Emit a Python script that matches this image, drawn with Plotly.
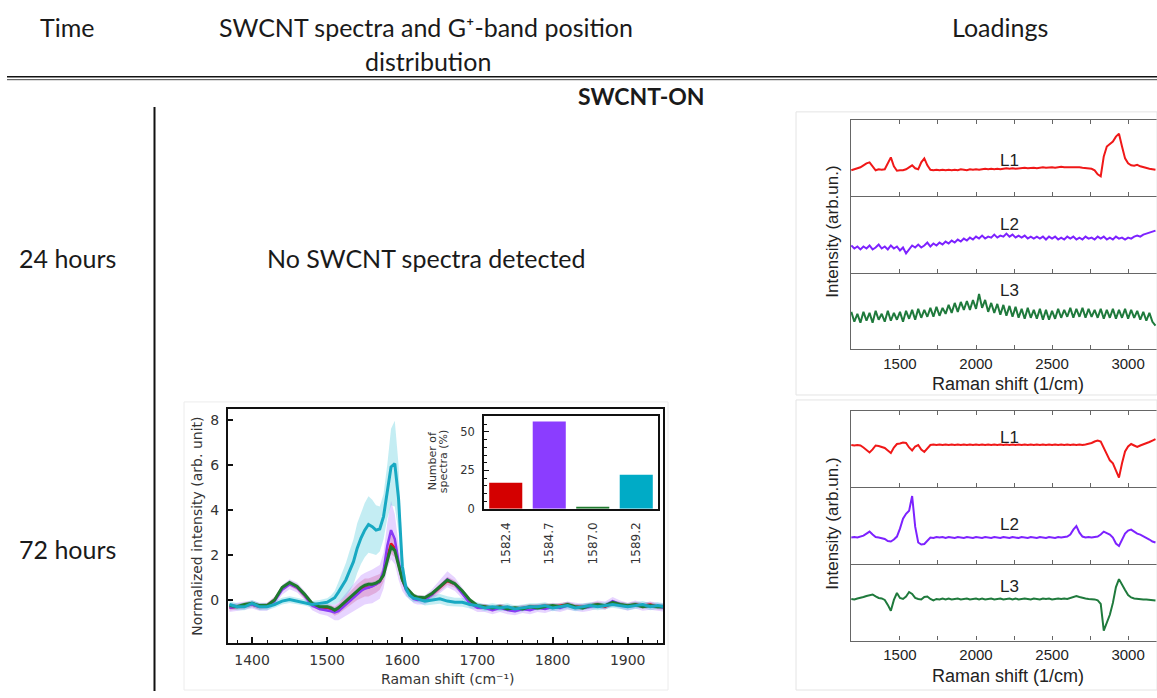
import plotly.graph_objects as go

W, H = 1157, 698


def fx(p):
    return p / W


def fy(p):
    return 1 - p / H


# ---------------- averaged SWCNT spectra (72 h) ----------------
shift = [1370, 1380, 1390, 1400, 1410, 1420, 1430, 1440, 1450, 1460, 1470, 1480, 1490, 1500,
         1505, 1510, 1515, 1520, 1525, 1530, 1535, 1540, 1545, 1550, 1555, 1560, 1565, 1570,
         1575, 1580, 1585, 1590, 1595, 1600, 1605, 1610, 1615, 1620,
         1630, 1640, 1650, 1660, 1670, 1680, 1690, 1700, 1710, 1720, 1730, 1740, 1750, 1760,
         1770, 1780, 1790, 1800, 1810, 1820, 1830, 1840, 1850, 1860, 1870, 1880, 1890, 1900,
         1910, 1920, 1930, 1940, 1950]

spec_1582 = [-0.35, -0.3, -0.25, -0.2, -0.3, -0.25, 0.0, 0.5, 0.72, 0.55, 0.2, -0.2, -0.35, -0.35,
             -0.4, -0.5, -0.4, -0.25, -0.1, 0.05, 0.2, 0.35, 0.45, 0.55, 0.55, 0.62, 0.7, 0.8,
             1.15, 1.9, 2.5, 2.3, 1.6, 0.9, 0.5, 0.3, 0.15, 0.1,
             0.05, 0.25, 0.55, 0.85, 0.7, 0.35, -0.05, -0.3, -0.3, -0.4, -0.3, -0.35, -0.4, -0.35,
             -0.3, -0.3, -0.25, -0.3, -0.25, -0.2, -0.3, -0.3, -0.25, -0.2, -0.3, -0.15, -0.2, -0.25,
             -0.2, -0.25, -0.2, -0.3, -0.3]
spec_1584 = [-0.35, -0.3, -0.25, -0.2, -0.3, -0.3, -0.05, 0.45, 0.7, 0.55, 0.2, -0.25, -0.4, -0.45,
             -0.5, -0.55, -0.5, -0.35, -0.2, -0.05, 0.1, 0.25, 0.4, 0.5, 0.55, 0.6, 0.7, 0.8,
             1.3, 2.4, 3.1, 2.7, 1.7, 0.9, 0.45, 0.25, 0.05, 0.0,
             0.0, 0.25, 0.6, 0.92, 0.7, 0.3, -0.15, -0.35, -0.35, -0.45, -0.35, -0.45, -0.5, -0.4,
             -0.45, -0.35, -0.4, -0.3, -0.35, -0.25, -0.3, -0.35, -0.3, -0.2, -0.25, -0.05, -0.2, -0.3,
             -0.2, -0.3, -0.25, -0.3, -0.35]
spec_1587 = [-0.25, -0.3, -0.2, -0.15, -0.25, -0.25, 0.0, 0.55, 0.78, 0.6, 0.25, -0.15, -0.3, -0.3,
             -0.35, -0.45, -0.35, -0.2, -0.05, 0.1, 0.25, 0.4, 0.55, 0.65, 0.7, 0.7, 0.75, 0.85,
             1.1, 1.75, 2.35, 2.2, 1.55, 0.9, 0.55, 0.35, 0.2, 0.12,
             0.1, 0.3, 0.6, 0.88, 0.72, 0.4, 0.0, -0.25, -0.3, -0.35, -0.3, -0.4, -0.35, -0.4,
             -0.3, -0.35, -0.3, -0.25, -0.3, -0.2, -0.3, -0.35, -0.25, -0.2, -0.25, -0.1, -0.2, -0.25,
             -0.2, -0.3, -0.25, -0.3, -0.3]
spec_1589 = [-0.2, -0.3, -0.3, -0.15, -0.3, -0.3, -0.2, -0.05, 0.02, -0.05, -0.1, -0.2, -0.15, -0.1,
             0.0, 0.1, 0.35, 0.6, 0.9, 1.3, 1.7, 2.3, 2.75, 3.1, 3.35, 3.25, 3.1, 3.15,
             3.7, 4.8, 5.9, 6.05, 4.5, 1.5, 0.5, 0.2, 0.08, 0.05,
             -0.05, 0.0, 0.05, -0.05, -0.1, -0.1, -0.2, -0.25, -0.35, -0.3, -0.35, -0.3, -0.4, -0.35,
             -0.3, -0.3, -0.25, -0.35, -0.3, -0.25, -0.35, -0.3, -0.25, -0.3, -0.25, -0.2, -0.25, -0.3,
             -0.25, -0.2, -0.3, -0.25, -0.3]

# standard deviation of each group (shaded bands)
sd_1582 = [0.12, 0.12, 0.12, 0.12, 0.12, 0.12, 0.12, 0.12, 0.12, 0.12, 0.12, 0.12, 0.12, 0.12,
           0.15, 0.2, 0.22, 0.25, 0.28, 0.3, 0.32, 0.35, 0.38, 0.4, 0.4, 0.4, 0.38, 0.35,
           0.35, 0.4, 0.45, 0.4, 0.3, 0.2, 0.15, 0.12, 0.12, 0.12,
           0.12, 0.14, 0.16, 0.18, 0.16, 0.14, 0.12, 0.12, 0.12, 0.12, 0.12, 0.12, 0.12, 0.12,
           0.12, 0.12, 0.12, 0.12, 0.12, 0.12, 0.12, 0.12, 0.12, 0.12, 0.12, 0.12, 0.12, 0.12,
           0.12, 0.12, 0.12, 0.12, 0.12]
sd_1584 = [0.18, 0.18, 0.18, 0.18, 0.18, 0.18, 0.2, 0.22, 0.22, 0.22, 0.2, 0.2, 0.22, 0.25,
           0.3, 0.35, 0.4, 0.45, 0.5, 0.55, 0.6, 0.65, 0.7, 0.7, 0.72, 0.75, 0.75, 0.75,
           0.8, 1.0, 1.3, 1.1, 0.8, 0.5, 0.3, 0.22, 0.2, 0.2,
           0.2, 0.25, 0.3, 0.35, 0.3, 0.25, 0.22, 0.18, 0.18, 0.18, 0.18, 0.18, 0.18, 0.18,
           0.18, 0.18, 0.18, 0.18, 0.18, 0.18, 0.18, 0.18, 0.18, 0.18, 0.18, 0.18, 0.18, 0.18,
           0.18, 0.18, 0.18, 0.18, 0.18]
sd_1587 = [0.1, 0.1, 0.1, 0.1, 0.1, 0.1, 0.1, 0.1, 0.1, 0.1, 0.1, 0.1, 0.1, 0.1,
           0.1, 0.1, 0.1, 0.1, 0.1, 0.1, 0.1, 0.1, 0.1, 0.1, 0.1, 0.1, 0.1, 0.1,
           0.12, 0.14, 0.15, 0.14, 0.12, 0.1, 0.1, 0.1, 0.1, 0.1,
           0.1, 0.1, 0.1, 0.1, 0.1, 0.1, 0.1, 0.1, 0.1, 0.1, 0.1, 0.1, 0.1, 0.1,
           0.1, 0.1, 0.1, 0.1, 0.1, 0.1, 0.1, 0.1, 0.1, 0.1, 0.1, 0.1, 0.1, 0.1,
           0.1, 0.1, 0.1, 0.1, 0.1]
sd_1589 = [0.15, 0.15, 0.15, 0.15, 0.15, 0.15, 0.15, 0.15, 0.15, 0.15, 0.15, 0.15, 0.15, 0.18,
           0.2, 0.3, 0.45, 0.6, 0.75, 0.9, 1.0, 1.1, 1.15, 1.2, 1.25, 1.2, 1.1, 1.0,
           1.0, 1.2, 1.7, 1.9, 1.5, 0.7, 0.3, 0.2, 0.18, 0.15,
           0.2, 0.2, 0.22, 0.22, 0.2, 0.2, 0.18, 0.15, 0.15, 0.15, 0.15, 0.15, 0.15, 0.15,
           0.15, 0.15, 0.15, 0.15, 0.15, 0.15, 0.15, 0.15, 0.15, 0.15, 0.15, 0.15, 0.15, 0.15,
           0.15, 0.15, 0.15, 0.15, 0.15]

# G+-band position distribution (inset)
gplus_pos = ["1582.4", "1584.7", "1587.0", "1589.2"]
gplus_share = [17.0, 56.8, 1.3, 22.2]

# ---------------- PCA loadings ----------------
raman_cm = [1180, 1200, 1220, 1240, 1260, 1280, 1300, 1320, 1340, 1360,
            1380, 1400, 1420, 1440, 1460, 1480, 1500, 1520, 1540, 1560,
            1580, 1600, 1620, 1640, 1660, 1680, 1700, 1720, 1740, 1760,
            1780, 1800, 1820, 1840, 1860, 1880, 1900, 1920, 1940, 1960,
            1980, 2000, 2020, 2040, 2060, 2080, 2100, 2120, 2140, 2160,
            2180, 2200, 2220, 2240, 2260, 2280, 2300, 2320, 2340, 2360,
            2380, 2400, 2420, 2440, 2460, 2480, 2500, 2520, 2540, 2560,
            2580, 2600, 2620, 2640, 2660, 2680, 2700, 2720, 2740, 2760,
            2780, 2800, 2820, 2840, 2860, 2880, 2900, 2920, 2940, 2960,
            2980, 3000, 3020, 3040, 3060, 3080, 3100, 3120, 3140, 3160,
            3180]

load24_L1 = [26, 27, 28, 29, 31, 33, 34, 30, 26, 27,
             26.5, 27, 33, 39, 30, 25.5, 26, 26, 27, 29,
             31, 28, 27, 34, 38, 31, 26.5, 26, 26.5, 26,
             26.5, 26, 26.5, 26, 26.5, 26, 27, 26.5, 26, 27,
             26.5, 27, 26.5, 27, 27.5, 27, 27.5, 27, 27.5, 27,
             27.5, 28, 27.5, 28, 27.5, 28, 28, 28.5, 28, 28.5,
             28.5, 28, 28.5, 29, 28.5, 29, 29, 28.5, 29, 29.5,
             29, 29, 29.5, 29, 29.5, 29, 28.5, 28, 28, 27.5,
             26, 22, 20, 40, 50, 53, 55, 60, 63, 50,
             38, 33, 31, 30.5, 31.5, 30, 29, 28.5, 27.5, 27,
             26.5]
load24_L2 = [28, 25, 27, 24, 27, 25, 28, 24, 26, 29,
             25, 27, 24, 28, 25, 27, 23, 26, 20, 24,
             28, 26, 29, 26, 28, 31, 27, 30, 28, 31,
             29, 32, 30, 33, 31, 34, 32, 35, 33, 36,
             34, 37, 35, 38, 35, 37, 36, 39, 36, 38,
             37, 40, 37, 39, 36, 38, 36, 38, 35, 37,
             35, 37, 35, 37, 34, 37, 35, 37, 34, 36,
             34, 37, 35, 37, 34, 36, 34, 37, 35, 36,
             34, 37, 35, 37, 34, 36, 34, 37, 35, 36,
             34, 36, 35, 37, 38, 37, 39, 40, 41, 42,
             43]
load24_L3 = [38, 28, 36, 27, 38, 29, 37, 27, 39, 30,
             36, 28, 39, 29, 37, 30, 38, 28, 39, 31,
             40, 30, 41, 32, 40, 33, 42, 33, 43, 34,
             42, 36, 45, 37, 47, 38, 48, 40, 49, 40,
             50, 41, 56, 42, 50, 38, 47, 37, 46, 35,
             45, 34, 44, 33, 43, 32, 41, 31, 42, 32,
             40, 31, 41, 30, 40, 30, 39, 31, 41, 32,
             40, 33, 42, 32, 41, 33, 42, 32, 41, 33,
             40, 32, 41, 31, 40, 32, 41, 31, 40, 32,
             41, 31, 40, 32, 39, 30, 38, 29, 37, 28,
             24]

load72_L1 = [42.5, 42, 42.5, 42, 40, 37, 35, 38, 42, 41.5,
             40.5, 39.5, 37, 34.5, 40, 43.5, 44, 45, 44.5, 40,
             37, 41, 42.5, 38, 35.5, 39, 42.5, 43, 42.5, 43,
             42.5, 43, 42.5, 43, 42.5, 43, 42.5, 43, 42.5, 43,
             42.5, 43, 42.5, 43, 42.5, 43, 42.5, 43, 42.5, 43,
             42.5, 43, 42.5, 43, 42.5, 43, 42.5, 43, 42.5, 43,
             42.5, 43, 42.5, 43, 42.5, 43, 42.5, 43, 42.5, 43,
             42.5, 43, 42.5, 43, 42.5, 43, 42.5, 43, 43.5, 44.5,
             46, 47, 46, 40, 33, 27, 24, 16, 9.5, 24,
             36, 41, 43.5, 42, 40.5, 42, 43, 44, 45.5, 47,
             48.5]
load72_L2 = [27, 27.5, 27, 28, 29, 31, 33, 30, 27.5, 27,
             26.5, 25.5, 23.5, 23, 25, 28, 36, 46, 51, 54,
             69, 38, 22, 20, 20.5, 24, 27, 26.5, 27.5, 27,
             27.5, 26.5, 27.5, 27, 26.5, 27.5, 27, 26.5, 27.5, 27,
             26.5, 27.5, 27, 26.5, 27.5, 27, 26.5, 27.5, 27, 26.5,
             27.5, 27, 26.5, 27.5, 27, 26.5, 27.5, 27, 26.5, 27.5,
             27, 26.5, 27.5, 27, 26.5, 27.5, 27, 26.5, 27.5, 27,
             27.5, 28, 30, 35, 38.5, 32, 28, 27, 27.5, 27,
             27.5, 28, 30, 33, 31.5, 30, 27, 21, 18.5, 25,
             31, 34, 35, 33, 31, 30, 28.5, 27, 25, 23,
             22]
load72_L3 = [42, 41.5, 42.5, 43, 44, 45, 46, 46.5, 44.5, 43,
             42.5, 41, 36, 30, 41, 48, 43, 42, 44.5, 49,
             47, 43, 42, 41.5, 44, 44.5, 42, 40.5, 42, 41.5,
             42.5, 41.5, 42.5, 41.5, 42, 42.5, 41.5, 42, 42.5, 41.5,
             42, 42.5, 41.5, 42.5, 41.5, 42, 42.5, 41.5, 42, 42.5,
             41.5, 42, 42.5, 41.5, 42.5, 41.5, 42, 42.5, 42, 41.5,
             42.5, 42, 41.5, 42.5, 42, 42.5, 41.5, 42, 42.5, 42,
             42.5, 42, 43, 44, 45, 44, 43, 42.5, 42, 42,
             41.5, 40.5, 37, 10, 18, 26, 38, 54, 62, 56,
             51, 46, 43.5, 42.5, 42, 42, 41.5, 41.5, 41, 40.5,
             40.5]

# ---------------- styling ----------------
SPEC_COLORS = {"1582.4": "#e8101e", "1584.7": "#8a3cf5", "1587.0": "#1e7a2e", "1589.2": "#18a9c2"}
BAND_COLORS = {"1582.4": "rgba(215,60,90,0.28)", "1584.7": "rgba(170,100,255,0.28)",
               "1587.0": "rgba(40,140,60,0.22)", "1589.2": "rgba(60,195,215,0.30)"}
BAR_COLORS = ["#d40000", "#8b3dff", "#1e7a2e", "#00abc6"]
LOAD_COLORS = {"L1": "#f01818", "L2": "#7d22ff", "L3": "#1f7a3c"}

HEAD_FONT = "Lato, 'Open Sans', sans-serif"
PLOT_FONT = "'DejaVu Sans', sans-serif"
LOAD_FONT = "'Liberation Sans', Arial, sans-serif"

fig = go.Figure()

series = [("1582.4", spec_1582, sd_1582), ("1584.7", spec_1584, sd_1584),
          ("1587.0", spec_1587, sd_1587), ("1589.2", spec_1589, sd_1589)]

# shaded ±sd bands first, then the mean lines on top
for name, mean, sd in series:
    upper = [m + s for m, s in zip(mean, sd)]
    lower = [m - s for m, s in zip(mean, sd)]
    fig.add_trace(go.Scatter(x=shift + shift[::-1], y=upper + lower[::-1], fill="toself",
                             fillcolor=BAND_COLORS[name], line=dict(width=0), mode="lines",
                             hoverinfo="skip", showlegend=False, xaxis="x", yaxis="y"))
for name, mean, sd in series:
    fig.add_trace(go.Scatter(x=shift, y=mean, mode="lines", name=name,
                             line=dict(color=SPEC_COLORS[name], width=3 if name in ("1587.0", "1589.2") else 2.5),
                             showlegend=False, xaxis="x", yaxis="y"))

fig.add_trace(go.Bar(x=gplus_pos, y=gplus_share, marker=dict(color=BAR_COLORS, line=dict(width=0)),
                     width=0.76, showlegend=False, xaxis="x2", yaxis="y2"))

# loadings panels: (x-axis id, y-axis id, values, label)
panels = [("x3", "y3", load24_L1, "L1"), ("x4", "y4", load24_L2, "L2"), ("x5", "y5", load24_L3, "L3"),
          ("x6", "y6", load72_L1, "L1"), ("x7", "y7", load72_L2, "L2"), ("x8", "y8", load72_L3, "L3")]
for xa, ya, vals, lab in panels:
    fig.add_trace(go.Scatter(x=raman_cm, y=vals, mode="lines", line=dict(color=LOAD_COLORS[lab], width=2),
                             showlegend=False, xaxis=xa, yaxis=ya))

layout = dict(
    width=W, height=H, margin=dict(l=0, r=0, t=0, b=0),
    paper_bgcolor="white", plot_bgcolor="rgba(0,0,0,0)", showlegend=False,
    xaxis=dict(domain=[fx(228), fx(663)], range=[1368, 1947], anchor="y",
               tickvals=[1400, 1500, 1600, 1700, 1800, 1900], ticks="inside", ticklen=6, tickwidth=1.5,
               tickcolor="#111", showline=True, linecolor="#111", linewidth=2, mirror=True,
               showgrid=False, zeroline=False, ticklabelstandoff=3,
               tickfont=dict(family=PLOT_FONT, size=14, color="#333"),
               minor=dict(dtick=20, tick0=1400, ticks="inside", ticklen=3, tickwidth=1.2, tickcolor="#111")),
    yaxis=dict(domain=[fy(650), fy(413)], range=[-1.93, 8.48], anchor="x",
               tickvals=[0, 2, 4, 6, 8], ticks="inside", ticklen=5, tickwidth=1.5, tickcolor="#111",
               showline=True, linecolor="#111", linewidth=2, mirror=True, showgrid=False, zeroline=False,
               ticklabelstandoff=4, tickfont=dict(family=PLOT_FONT, size=14, color="#333")),
    xaxis2=dict(domain=[fx(484), fx(658)], range=[-0.5, 3.5], anchor="y2", type="category",
                tickangle=-90, ticks="outside", ticklen=7, tickcolor="rgba(0,0,0,0)",
                showline=True, linecolor="#111", linewidth=1.5, mirror=True,
                showgrid=False, tickfont=dict(family=PLOT_FONT, size=12, color="#333")),
    yaxis2=dict(domain=[fy(514), fy(420)], range=[0, 60.5], anchor="x2",
                tickvals=[0, 25, 50], ticks="inside", ticklen=5, tickwidth=1.2, tickcolor="#111",
                showline=True, linecolor="#111", linewidth=1.5, mirror=True, showgrid=False, zeroline=False,
                ticklabelstandoff=5, tickfont=dict(family=PLOT_FONT, size=11.5, color="#333"),
                minor=dict(dtick=5, ticks="inside", ticklen=3, tickwidth=1, tickcolor="#111")),
)

load_ticks = [1500, 1750, 2000, 2250, 2500, 2750, 3000]
load_text = ["1500", "", "2000", "", "2500", "", "3000"]
top_bounds = [(121, 198), (198, 276), (276, 353)]
bot_bounds = [(415, 492), (492, 570), (570, 647)]
for i, (top, bot) in enumerate(top_bounds + bot_bounds):
    n = i + 3
    first = i in (0, 3)
    last = i in (2, 5)
    # the uppermost panel draws its own top edge; lower panels share the edge above them
    layout[f"xaxis{n}"] = dict(domain=[fx(851), 1.0], range=[1178, 3190], anchor=f"y{n}",
                               tickvals=load_ticks, ticktext=load_text, ticks="inside", ticklen=4,
                               tickwidth=1.2, tickcolor="#666", showline=True, linecolor="#666",
                               linewidth=1.3, mirror="allticks" if first else False,
                               showgrid=False, zeroline=False, showticklabels=last,
                               tickfont=dict(family=LOAD_FONT, size=15, color="#222"))
    layout[f"yaxis{n}"] = dict(domain=[fy(bot), fy(top)], range=[0, bot - top], anchor=f"x{n}",
                               showline=True, linecolor="#666", linewidth=1.3, mirror=False,
                               ticks="", showticklabels=False, showgrid=False, zeroline=False)
fig.update_layout(**layout)


def note(text, x, y, size, family=HEAD_FONT, color="#1a1a1a", angle=0, bold=False):
    if bold:
        text = f"<b>{text}</b>"
    fig.add_annotation(text=text, x=fx(x), y=fy(y), xref="paper", yref="paper", showarrow=False,
                       xanchor="center", yanchor="middle", textangle=angle,
                       font=dict(family=family, size=size, color=color))


# table header and row labels
note("Time", 67, 27, 25)
note("SWCNT spectra and G\u207a-band position", 426, 27, 25)
note("distribution", 428, 62, 25)
note("Loadings", 1000, 27, 25)
note("SWCNT-ON", 641, 97, 23, bold=True)
note("24 hours", 67, 261, 25)
note("No SWCNT spectra detected", 426, 261, 25)
note("72 hours", 67, 555, 25)

# spectrum panel titles
note("Normalized intensity (arb. unit)", 197, 532, 14, family=PLOT_FONT, color="#333", angle=-90)
note("Raman shift (cm\u207b\u00b9)", 447, 686, 14, family=PLOT_FONT, color="#333")
note("Number of", 432, 466, 11, family=PLOT_FONT, color="#333", angle=-90)
note("spectra (%)", 443, 466, 11, family=PLOT_FONT, color="#333", angle=-90)

# loadings titles and labels
for yc, ytitle, labs in [(234, 388, (162, 227, 293)), (529, 683, (442, 530, 592))]:
    note("Intensity (arb.un.)", 833, yc, 17, family=LOAD_FONT, color="#222", angle=-90)
    note("Raman shift (1/cm)", 1008, ytitle, 18, family=LOAD_FONT, color="#222")
    for lab, ly in zip(("L1", "L2", "L3"), labs):
        note(lab, 1009, ly, 17, family=LOAD_FONT, color="#222")

# table rules
shapes = [
    dict(type="line", xref="paper", yref="paper", x0=fx(7), x1=1.0, y0=fy(77.5), y1=fy(77.5),
         line=dict(color="#111", width=1.5)),
    dict(type="line", xref="paper", yref="paper", x0=fx(7), x1=1.0, y0=fy(80.5), y1=fy(80.5),
         line=dict(color="#444", width=1)),
    dict(type="line", xref="paper", yref="paper", x0=fx(154.5), x1=fx(154.5), y0=fy(108), y1=0,
         line=dict(color="#111", width=2)),
    # faint frames around embedded panels
    dict(type="rect", xref="paper", yref="paper", x0=fx(184), x1=fx(668), y0=fy(697), y1=fy(406),
         line=dict(color="#ececec", width=1)),
    dict(type="rect", xref="paper", yref="paper", x0=fx(796), x1=fx(1157), y0=fy(399), y1=fy(113),
         line=dict(color="#e4e4e4", width=1)),
    dict(type="rect", xref="paper", yref="paper", x0=fx(796), x1=fx(1157), y0=fy(697), y1=fy(404),
         line=dict(color="#e4e4e4", width=1)),
]
fig.update_layout(shapes=shapes)

fig.write_html("out.html")
